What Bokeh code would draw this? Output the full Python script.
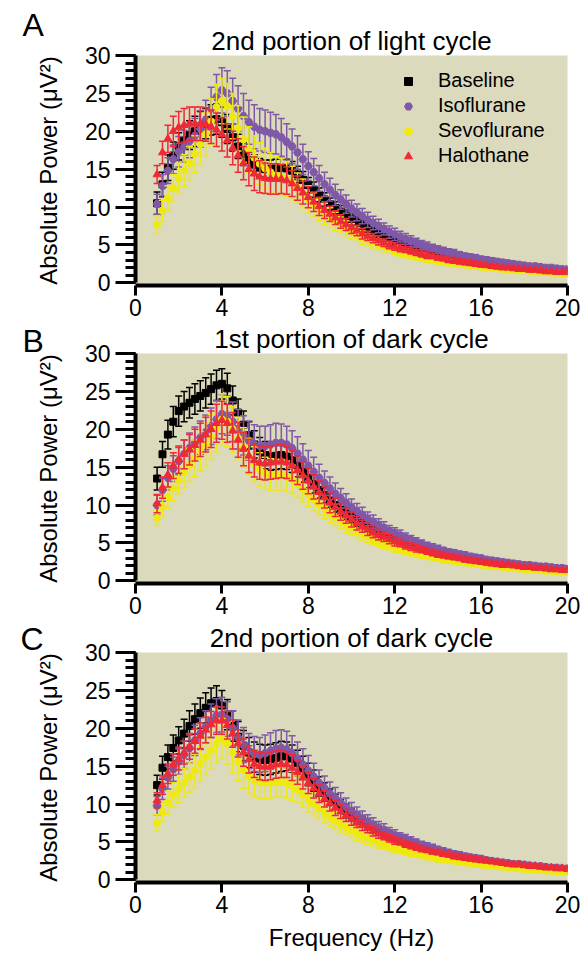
from bokeh.plotting import figure
from bokeh.layouts import column
from bokeh.models import Range1d, SingleIntervalTicker, Label, Legend, LegendItem, ColumnDataSource
from bokeh.embed import file_html
from bokeh.resources import INLINE
import numpy as np

# ---------------- data ----------------
freq = np.arange(1.0, 20.001, 0.25)   # 0.25 Hz bins, 1-20 Hz

series_names = ["Baseline", "Isoflurane", "Sevoflurane", "Halothane"]
panel_titles = ["2nd portion of light cycle", "1st portion of dark cycle", "2nd portion of dark cycle"]
panel_letters = ["A", "B", "C"]
x_ticks_interval = 4
y_ticks_interval = 5

A_base = [10.5, 13.0, 15.2, 16.8, 18.0, 18.8, 19.5, 20.0, 20.6, 21.0, 21.5, 21.6, 21.2, 20.3, 19.2, 18.0,
          17.0, 16.2, 15.6, 15.2, 15.0, 15.0, 15.1, 15.2, 15.1, 14.8, 14.3, 13.6, 12.9, 12.3, 11.6, 11.0,
          10.4, 9.9, 9.4, 8.9, 8.4, 8.0, 7.6, 7.2, 6.8, 6.5, 6.2, 5.9, 5.5, 5.2, 5.0, 4.8,
          4.5, 4.3, 4.1, 3.9, 3.7, 3.5, 3.4, 3.2, 3.1, 2.9, 2.8, 2.7, 2.6, 2.5, 2.4, 2.3,
          2.2, 2.1, 2.0, 2.0, 1.9, 1.8, 1.8, 1.7, 1.6, 1.6, 1.5, 1.5, 1.4]
A_base_sem = [1.5, 1.6, 1.7, 1.8, 1.8, 1.9, 1.9, 2.0, 2.0, 2.0, 2.0, 2.0, 2.0, 1.9, 1.8, 1.6,
              1.5, 1.4, 1.3, 1.2, 1.2, 1.2, 1.2, 1.2, 1.2, 1.2, 1.1, 1.1, 1.0, 1.0, 0.9, 0.9,
              0.8, 0.8, 0.8, 0.7, 0.7, 0.7, 0.6, 0.6, 0.6, 0.5, 0.5, 0.5, 0.5, 0.5, 0.4, 0.4,
              0.4, 0.4, 0.4, 0.4, 0.3, 0.3, 0.3, 0.3, 0.3, 0.3, 0.3, 0.3, 0.3, 0.3, 0.2, 0.2,
              0.2, 0.2, 0.2, 0.2, 0.2, 0.2, 0.2, 0.2, 0.2, 0.2, 0.2, 0.2, 0.2]
A_iso = [10.4, 12.8, 14.8, 16.3, 17.3, 18.0, 18.7, 19.4, 20.3, 21.5, 23.0, 24.5, 25.4, 25.0, 24.0, 23.0,
         22.0, 21.2, 20.6, 20.2, 20.0, 19.8, 19.6, 19.2, 18.6, 18.0, 17.2, 16.3, 15.4, 14.6, 13.8, 13.0,
         12.3, 11.6, 11.0, 10.4, 9.8, 9.3, 8.8, 8.3, 7.9, 7.5, 7.1, 6.7, 6.4, 6.1, 5.8, 5.5,
         5.3, 5.0, 4.8, 4.6, 4.4, 4.2, 4.0, 3.9, 3.7, 3.5, 3.4, 3.3, 3.1, 3.0, 2.9, 2.8,
         2.7, 2.6, 2.5, 2.4, 2.3, 2.2, 2.2, 2.1, 2.0, 2.0, 1.9, 1.8, 1.8]
A_iso_sem = [1.3, 1.5, 1.7, 1.9, 2.0, 2.1, 2.2, 2.3, 2.4, 2.6, 2.8, 3.0, 3.0, 3.0, 3.0, 3.0,
             3.0, 2.9, 2.9, 2.8, 2.8, 2.7, 2.6, 2.5, 2.4, 2.3, 2.2, 2.0, 1.9, 1.8, 1.7, 1.6,
             1.5, 1.4, 1.3, 1.2, 1.1, 1.1, 1.0, 1.0, 0.9, 0.9, 0.8, 0.8, 0.8, 0.7, 0.7, 0.7,
             0.6, 0.6, 0.6, 0.5, 0.5, 0.5, 0.5, 0.5, 0.4, 0.4, 0.4, 0.4, 0.4, 0.4, 0.4, 0.3,
             0.3, 0.3, 0.3, 0.3, 0.3, 0.3, 0.3, 0.3, 0.3, 0.3, 0.3, 0.3, 0.3]
A_sevo = [7.7, 9.5, 11.2, 12.5, 13.8, 14.8, 15.8, 17.0, 18.3, 19.6, 21.3, 23.2, 24.0, 23.3, 22.0, 20.4,
          18.9, 17.6, 16.5, 15.7, 15.1, 14.6, 14.2, 14.0, 13.7, 13.2, 12.5, 11.8, 11.0, 10.3, 9.7, 9.1,
          8.6, 8.1, 7.6, 7.2, 6.8, 6.4, 6.0, 5.7, 5.4, 5.1, 4.8, 4.6, 4.3, 4.1, 3.9, 3.7,
          3.5, 3.4, 3.2, 3.1, 2.9, 2.8, 2.7, 2.6, 2.5, 2.4, 2.3, 2.2, 2.1, 2.0, 2.0, 1.9,
          1.8, 1.8, 1.7, 1.6, 1.6, 1.5, 1.5, 1.4, 1.4, 1.3, 1.3, 1.2, 1.2]
A_sevo_sem = [1.2, 1.4, 1.6, 1.8, 2.0, 2.1, 2.2, 2.4, 2.6, 2.8, 3.0, 3.0, 3.0, 3.0, 3.0, 3.0,
              3.0, 3.0, 2.9, 2.8, 2.7, 2.6, 2.5, 2.4, 2.3, 2.2, 2.0, 1.9, 1.8, 1.6, 1.5, 1.4,
              1.3, 1.2, 1.1, 1.0, 1.0, 0.9, 0.9, 0.8, 0.8, 0.7, 0.7, 0.7, 0.6, 0.6, 0.6, 0.5,
              0.5, 0.5, 0.5, 0.4, 0.4, 0.4, 0.4, 0.4, 0.4, 0.3, 0.3, 0.3, 0.3, 0.3, 0.3, 0.3,
              0.3, 0.3, 0.3, 0.2, 0.2, 0.2, 0.2, 0.2, 0.2, 0.2, 0.2, 0.2, 0.2]
A_halo = [14.3, 17.2, 19.0, 20.0, 20.5, 20.8, 21.0, 21.0, 21.0, 20.9, 20.6, 20.2, 19.6, 18.8, 17.8, 16.8,
          15.8, 15.0, 14.4, 14.0, 13.8, 13.7, 13.7, 13.7, 13.5, 13.1, 12.5, 11.9, 11.3, 10.7, 10.1, 9.6,
          9.1, 8.6, 8.1, 7.7, 7.3, 6.9, 6.5, 6.2, 5.9, 5.6, 5.3, 5.0, 4.8, 4.6, 4.4, 4.2,
          4.0, 3.8, 3.6, 3.5, 3.3, 3.2, 3.0, 2.9, 2.8, 2.7, 2.6, 2.5, 2.4, 2.3, 2.2, 2.1,
          2.0, 2.0, 1.9, 1.8, 1.8, 1.7, 1.7, 1.6, 1.5, 1.5, 1.4, 1.4, 1.4]
A_halo_sem = [1.2, 1.5, 1.8, 2.0, 2.1, 2.2, 2.2, 2.2, 2.2, 2.2, 2.2, 2.2, 2.2, 2.2, 2.2, 2.2,
              2.2, 2.2, 2.2, 2.1, 2.0, 2.0, 2.0, 1.9, 1.8, 1.7, 1.6, 1.5, 1.4, 1.3, 1.2, 1.1,
              1.0, 0.9, 0.9, 0.8, 0.8, 0.7, 0.7, 0.6, 0.6, 0.6, 0.5, 0.5, 0.5, 0.5, 0.4, 0.4,
              0.4, 0.4, 0.4, 0.3, 0.3, 0.3, 0.3, 0.3, 0.3, 0.3, 0.3, 0.3, 0.3, 0.2, 0.2, 0.2,
              0.2, 0.2, 0.2, 0.2, 0.2, 0.2, 0.2, 0.2, 0.2, 0.2, 0.2, 0.2, 0.2]

B_base = [13.5, 16.7, 19.3, 21.0, 22.4, 23.0, 23.5, 24.0, 24.4, 24.8, 25.3, 25.8, 26.0, 25.4, 23.8, 22.2,
          20.6, 19.2, 18.0, 17.1, 16.6, 16.4, 16.5, 16.6, 16.4, 15.9, 15.2, 14.4, 13.6, 12.8, 12.0, 11.3,
          10.6, 10.0, 9.4, 8.9, 8.4, 7.9, 7.5, 7.1, 6.7, 6.3, 6.0, 5.7, 5.4, 5.1, 4.9, 4.6,
          4.4, 4.2, 4.0, 3.8, 3.6, 3.5, 3.3, 3.2, 3.1, 2.9, 2.8, 2.7, 2.6, 2.5, 2.4, 2.3,
          2.2, 2.1, 2.1, 2.0, 1.9, 1.8, 1.8, 1.7, 1.7, 1.6, 1.5, 1.5, 1.4]
B_base_sem = [1.5, 1.7, 1.9, 2.0, 2.0, 2.0, 2.0, 2.0, 2.0, 2.0, 2.0, 2.0, 2.0, 2.0, 1.9, 1.8,
              1.8, 1.8, 1.8, 1.8, 1.8, 1.8, 1.8, 1.8, 1.7, 1.6, 1.5, 1.4, 1.3, 1.2, 1.1, 1.0,
              0.9, 0.9, 0.8, 0.8, 0.7, 0.7, 0.6, 0.6, 0.6, 0.5, 0.5, 0.5, 0.5, 0.4, 0.4, 0.4,
              0.4, 0.4, 0.3, 0.3, 0.3, 0.3, 0.3, 0.3, 0.3, 0.3, 0.3, 0.3, 0.2, 0.2, 0.2, 0.2,
              0.2, 0.2, 0.2, 0.2, 0.2, 0.2, 0.2, 0.2, 0.2, 0.2, 0.2, 0.2, 0.2]
B_iso = [10.0, 12.0, 13.6, 14.8, 15.8, 16.7, 17.5, 18.2, 18.9, 19.6, 20.4, 21.3, 22.0, 21.8, 21.0, 20.0,
         19.2, 18.5, 18.0, 17.8, 17.8, 18.0, 18.2, 18.2, 18.0, 17.5, 16.8, 16.0, 15.2, 14.4, 13.6, 12.9,
         12.2, 11.5, 10.9, 10.3, 9.7, 9.2, 8.7, 8.2, 7.8, 7.4, 7.0, 6.6, 6.3, 6.0, 5.7, 5.4,
         5.1, 4.9, 4.6, 4.4, 4.2, 4.0, 3.8, 3.7, 3.5, 3.4, 3.2, 3.1, 3.0, 2.8, 2.7, 2.6,
         2.5, 2.4, 2.3, 2.2, 2.1, 2.1, 2.0, 1.9, 1.9, 1.8, 1.7, 1.7, 1.6]
B_iso_sem = [1.3, 1.5, 1.6, 1.7, 1.8, 1.9, 2.0, 2.1, 2.2, 2.3, 2.4, 2.5, 2.6, 2.6, 2.6, 2.6,
             2.6, 2.6, 2.6, 2.6, 2.6, 2.6, 2.6, 2.5, 2.4, 2.3, 2.2, 2.1, 2.0, 1.9, 1.8, 1.6,
             1.5, 1.4, 1.3, 1.2, 1.1, 1.0, 1.0, 0.9, 0.9, 0.8, 0.8, 0.7, 0.7, 0.7, 0.6, 0.6,
             0.6, 0.5, 0.5, 0.5, 0.5, 0.4, 0.4, 0.4, 0.4, 0.4, 0.4, 0.3, 0.3, 0.3, 0.3, 0.3,
             0.3, 0.3, 0.3, 0.3, 0.3, 0.3, 0.3, 0.3, 0.3, 0.3, 0.3, 0.3, 0.3]
B_sevo = [8.3, 9.8, 11.0, 12.2, 13.3, 14.3, 15.3, 16.2, 17.1, 18.0, 19.0, 20.2, 21.3, 21.0, 20.0, 18.8,
          17.6, 16.4, 15.4, 14.7, 14.2, 14.0, 14.0, 14.0, 13.8, 13.4, 12.8, 12.1, 11.4, 10.7, 10.1, 9.5,
          8.9, 8.4, 7.9, 7.4, 7.0, 6.6, 6.2, 5.9, 5.5, 5.2, 4.9, 4.7, 4.4, 4.2, 4.0, 3.8,
          3.6, 3.4, 3.3, 3.1, 3.0, 2.8, 2.7, 2.6, 2.5, 2.4, 2.3, 2.2, 2.1, 2.0, 1.9, 1.9,
          1.8, 1.7, 1.7, 1.6, 1.5, 1.5, 1.4, 1.4, 1.3, 1.3, 1.2, 1.2, 1.1]
B_sevo_sem = [1.0, 1.2, 1.4, 1.6, 1.8, 2.0, 2.2, 2.4, 2.6, 2.8, 3.0, 3.2, 3.4, 3.3, 3.0, 2.8,
              2.6, 2.4, 2.3, 2.2, 2.1, 2.1, 2.0, 2.0, 2.0, 1.9, 1.8, 1.7, 1.6, 1.5, 1.4, 1.3,
              1.2, 1.1, 1.0, 1.0, 0.9, 0.9, 0.8, 0.8, 0.7, 0.7, 0.6, 0.6, 0.6, 0.5, 0.5, 0.5,
              0.5, 0.4, 0.4, 0.4, 0.4, 0.4, 0.3, 0.3, 0.3, 0.3, 0.3, 0.3, 0.3, 0.3, 0.3, 0.3,
              0.3, 0.2, 0.2, 0.2, 0.2, 0.2, 0.2, 0.2, 0.2, 0.2, 0.2, 0.2, 0.2]
B_halo = [10.2, 12.3, 14.0, 15.2, 16.0, 16.7, 17.3, 17.9, 18.6, 19.3, 20.0, 20.8, 21.2, 20.8, 19.8, 18.6,
          17.4, 16.5, 15.9, 15.6, 15.5, 15.6, 15.7, 15.8, 15.6, 15.2, 14.6, 13.9, 13.2, 12.4, 11.7, 11.0,
          10.3, 9.7, 9.1, 8.6, 8.1, 7.6, 7.2, 6.8, 6.4, 6.1, 5.8, 5.5, 5.2, 5.0, 4.7, 4.5,
          4.3, 4.1, 3.9, 3.7, 3.5, 3.4, 3.2, 3.1, 3.0, 2.8, 2.7, 2.6, 2.5, 2.4, 2.3, 2.2,
          2.1, 2.1, 2.0, 1.9, 1.8, 1.8, 1.7, 1.7, 1.6, 1.5, 1.5, 1.4, 1.4]
B_halo_sem = [1.2, 1.4, 1.6, 1.7, 1.8, 1.9, 2.0, 2.1, 2.2, 2.3, 2.4, 2.5, 2.5, 2.5, 2.4, 2.3,
              2.2, 2.2, 2.2, 2.2, 2.2, 2.2, 2.2, 2.2, 2.1, 2.0, 1.9, 1.8, 1.7, 1.6, 1.5, 1.4,
              1.3, 1.2, 1.1, 1.0, 1.0, 0.9, 0.8, 0.8, 0.7, 0.7, 0.6, 0.6, 0.6, 0.5, 0.5, 0.5,
              0.5, 0.4, 0.4, 0.4, 0.4, 0.4, 0.3, 0.3, 0.3, 0.3, 0.3, 0.3, 0.3, 0.3, 0.3, 0.3,
              0.3, 0.2, 0.2, 0.2, 0.2, 0.2, 0.2, 0.2, 0.2, 0.2, 0.2, 0.2, 0.2]

C_base = [12.5, 14.8, 16.2, 17.4, 18.4, 19.3, 20.3, 21.2, 22.0, 22.7, 23.3, 23.6, 23.0, 21.8, 20.3, 18.9,
          17.7, 16.8, 16.2, 15.9, 15.8, 15.9, 16.1, 16.3, 16.3, 16.0, 15.4, 14.7, 13.9, 13.1, 12.3, 11.6,
          10.9, 10.3, 9.7, 9.1, 8.6, 8.1, 7.7, 7.3, 6.9, 6.5, 6.2, 5.9, 5.6, 5.3, 5.0, 4.8,
          4.6, 4.4, 4.2, 4.0, 3.7, 3.5, 3.3, 3.2, 3.0, 2.9, 2.8, 2.6, 2.5, 2.4, 2.3, 2.2,
          2.1, 2.0, 1.9, 1.8, 1.7, 1.7, 1.6, 1.5, 1.5, 1.4, 1.4, 1.3, 1.3]
C_base_sem = [1.3, 1.5, 1.6, 1.7, 1.8, 1.9, 2.0, 2.0, 2.0, 2.0, 2.0, 2.0, 2.0, 2.0, 2.0, 2.0,
              2.0, 2.0, 2.0, 2.0, 2.0, 2.0, 2.0, 2.0, 1.9, 1.8, 1.7, 1.6, 1.5, 1.4, 1.3, 1.2,
              1.1, 1.0, 0.9, 0.9, 0.8, 0.8, 0.7, 0.7, 0.6, 0.6, 0.6, 0.5, 0.5, 0.5, 0.5, 0.4,
              0.4, 0.4, 0.4, 0.4, 0.3, 0.3, 0.3, 0.3, 0.3, 0.3, 0.3, 0.3, 0.2, 0.2, 0.2, 0.2,
              0.2, 0.2, 0.2, 0.2, 0.2, 0.2, 0.2, 0.2, 0.2, 0.2, 0.2, 0.2, 0.2]
C_iso = [9.8, 12.0, 13.5, 14.6, 15.6, 16.5, 17.4, 18.4, 19.3, 20.2, 21.0, 21.7, 21.8, 21.2, 20.0, 18.8,
         17.8, 17.0, 16.6, 16.5, 16.7, 17.0, 17.3, 17.4, 17.2, 16.7, 16.0, 15.2, 14.4, 13.6, 12.8, 12.1,
         11.4, 10.8, 10.2, 9.6, 9.1, 8.6, 8.1, 7.7, 7.3, 6.9, 6.6, 6.2, 5.9, 5.6, 5.4, 5.1,
         4.9, 4.6, 4.4, 4.2, 4.0, 3.8, 3.6, 3.4, 3.3, 3.1, 3.0, 2.9, 2.8, 2.6, 2.5, 2.4,
         2.3, 2.2, 2.1, 2.1, 2.0, 1.9, 1.8, 1.8, 1.7, 1.6, 1.6, 1.5, 1.5]
C_iso_sem = [1.2, 1.4, 1.5, 1.6, 1.7, 1.8, 1.9, 2.0, 2.1, 2.1, 2.2, 2.2, 2.3, 2.3, 2.3, 2.3,
             2.3, 2.3, 2.3, 2.3, 2.4, 2.4, 2.4, 2.4, 2.4, 2.3, 2.2, 2.1, 2.0, 1.8, 1.7, 1.6,
             1.5, 1.4, 1.3, 1.2, 1.1, 1.0, 1.0, 0.9, 0.9, 0.8, 0.8, 0.7, 0.7, 0.6, 0.6, 0.6,
             0.5, 0.5, 0.5, 0.5, 0.4, 0.4, 0.4, 0.4, 0.4, 0.4, 0.3, 0.3, 0.3, 0.3, 0.3, 0.3,
             0.3, 0.3, 0.3, 0.3, 0.3, 0.3, 0.3, 0.3, 0.3, 0.3, 0.3, 0.3, 0.3]
C_sevo = [7.5, 9.0, 10.2, 11.2, 12.0, 12.8, 13.6, 14.4, 15.3, 16.2, 17.1, 18.0, 18.6, 18.0, 16.8, 15.6,
          14.5, 13.7, 13.2, 12.9, 12.8, 12.8, 12.9, 12.9, 12.8, 12.4, 11.9, 11.3, 10.6, 10.0, 9.4, 8.8,
          8.3, 7.8, 7.3, 6.9, 6.5, 6.1, 5.8, 5.5, 5.2, 4.9, 4.7, 4.4, 4.2, 4.0, 3.8, 3.6,
          3.4, 3.3, 3.1, 3.0, 2.8, 2.7, 2.6, 2.5, 2.4, 2.3, 2.2, 2.1, 2.0, 1.9, 1.8, 1.8,
          1.7, 1.6, 1.6, 1.5, 1.4, 1.4, 1.3, 1.3, 1.2, 1.2, 1.1, 1.1, 1.0]
C_sevo_sem = [1.1, 1.3, 1.5, 1.6, 1.8, 1.9, 2.0, 2.2, 2.3, 2.4, 2.5, 2.6, 2.7, 2.7, 2.6, 2.5,
              2.4, 2.3, 2.2, 2.1, 2.1, 2.0, 2.0, 2.0, 2.0, 1.9, 1.8, 1.7, 1.6, 1.5, 1.4, 1.3,
              1.2, 1.1, 1.0, 1.0, 0.9, 0.9, 0.8, 0.8, 0.7, 0.7, 0.6, 0.6, 0.6, 0.5, 0.5, 0.5,
              0.4, 0.4, 0.4, 0.4, 0.4, 0.3, 0.3, 0.3, 0.3, 0.3, 0.3, 0.3, 0.3, 0.3, 0.2, 0.2,
              0.2, 0.2, 0.2, 0.2, 0.2, 0.2, 0.2, 0.2, 0.2, 0.2, 0.2, 0.2, 0.2]
C_halo = [10.5, 12.5, 14.0, 15.2, 16.0, 16.8, 17.5, 18.3, 19.0, 19.8, 20.5, 21.0, 21.0, 20.4, 19.3, 18.0,
          16.8, 15.9, 15.3, 15.0, 14.9, 15.0, 15.2, 15.3, 15.2, 14.8, 14.2, 13.5, 12.8, 12.1, 11.4, 10.7,
          10.1, 9.5, 9.0, 8.5, 8.0, 7.6, 7.2, 6.8, 6.4, 6.1, 5.8, 5.5, 5.2, 5.0, 4.7, 4.5,
          4.3, 4.1, 3.9, 3.7, 3.6, 3.4, 3.3, 3.1, 3.0, 2.9, 2.8, 2.7, 2.6, 2.5, 2.4, 2.3,
          2.2, 2.1, 2.0, 2.0, 1.9, 1.8, 1.8, 1.7, 1.6, 1.6, 1.5, 1.5, 1.4]
C_halo_sem = [1.0, 1.2, 1.3, 1.4, 1.5, 1.5, 1.6, 1.6, 1.7, 1.7, 1.7, 1.8, 1.8, 1.8, 1.8, 1.8,
              1.8, 1.8, 1.8, 1.8, 1.8, 1.8, 1.8, 1.8, 1.7, 1.7, 1.6, 1.5, 1.4, 1.3, 1.2, 1.1,
              1.0, 1.0, 0.9, 0.8, 0.8, 0.7, 0.7, 0.6, 0.6, 0.6, 0.5, 0.5, 0.5, 0.4, 0.4, 0.4,
              0.4, 0.4, 0.3, 0.3, 0.3, 0.3, 0.3, 0.3, 0.3, 0.3, 0.3, 0.3, 0.3, 0.2, 0.2, 0.2,
              0.2, 0.2, 0.2, 0.2, 0.2, 0.2, 0.2, 0.2, 0.2, 0.2, 0.2, 0.2, 0.2]

# ---------------- style ----------------
FONT = "Liberation Sans"
BG = "#dcdabd"
COLORS = ["#000000", "#7f58a8", "#eeea10", "#ee2a36"]
MARKERS = ["square", "hex", "circle", "triangle"]
SIZES = [7, 8, 7, 8]

panels = [
    [(A_base, A_base_sem), (A_iso, A_iso_sem), (A_sevo, A_sevo_sem), (A_halo, A_halo_sem)],
    [(B_base, B_base_sem), (B_iso, B_iso_sem), (B_sevo, B_sevo_sem), (B_halo, B_halo_sem)],
    [(C_base, C_base_sem), (C_iso, C_iso_sem), (C_sevo, C_sevo_sem), (C_halo, C_halo_sem)],
]
for pan in panels:
    for m, s in pan:
        assert len(m) == len(freq) and len(s) == len(freq), (len(m), len(s))

FW, FH = 432, 230
tops = [55, 34, 35]
bottoms = [34, 34, 0]
letter_y = [FH + 31, FH + 13, FH + 14]


def make_panel(k):
    p = figure(frame_width=FW, frame_height=FH, x_range=Range1d(0, 20), y_range=Range1d(-0.35, 30),
               output_backend="svg", toolbar_location=None,
               min_border_left=135, min_border_right=14, min_border_top=tops[k],
               min_border_bottom=bottoms[k],
               background_fill_color=BG, border_fill_color="white", outline_line_color=None)
    p.grid.visible = False

    p.title.text = panel_titles[k]
    p.title.align = "center"
    p.title.text_font = FONT
    p.title.text_font_size = "26px"
    p.title.text_font_style = "normal"
    p.title.text_color = "black"
    p.title.standoff = 0
    p.title.offset = 4

    xa = p.xaxis[0]
    xa.ticker = SingleIntervalTicker(interval=x_ticks_interval, num_minor_ticks=0)
    xa.bounds = (0, 20)
    ya = p.yaxis[0]
    ya.ticker = SingleIntervalTicker(interval=y_ticks_interval, num_minor_ticks=5)
    ya.bounds = (0, 30)
    for ax in (xa, ya):
        ax.axis_line_width = 4
        ax.axis_line_color = "black"
        ax.major_tick_line_width = 3
        ax.minor_tick_line_width = 3
        ax.major_tick_in = 0
        ax.minor_tick_in = 0
        ax.major_label_text_font = FONT
        ax.major_label_text_font_size = "23px"
        ax.major_label_text_color = "black"
        ax.axis_label_text_font = FONT
        ax.axis_label_text_font_size = "24px"
        ax.axis_label_text_font_style = "normal"
        ax.axis_label_text_color = "black"
    xa.major_tick_out = 10
    xa.major_label_standoff = 3
    ya.major_tick_out = 20
    ya.minor_tick_out = 10
    ya.major_label_standoff = 5
    ya.axis_label = "Absolute Power (\u03bcV\u00b2)"
    ya.axis_label_standoff = 20
    if k == 2:
        xa.axis_label = "Frequency (Hz)"
        xa.axis_label_standoff = 8

    items = []
    for i, (m, s) in enumerate(panels[k]):
        mv = np.array(m)
        sv = np.array(s)
        src = ColumnDataSource(dict(x=freq, y=mv, lo=mv - sv, hi=mv + sv))
        c = COLORS[i]
        p.segment(x0="x", y0="lo", x1="x", y1="hi", source=src, line_color=c, line_width=1.5)
        p.scatter(x="x", y="hi", source=src, marker="dash", size=7, line_color=c, line_width=1.5)
        p.scatter(x="x", y="lo", source=src, marker="dash", size=7, line_color=c, line_width=1.5)
        r = p.scatter(x="x", y="y", source=src, marker=MARKERS[i], size=SIZES[i],
                      fill_color=c, line_color=c)
        items.append(LegendItem(label=series_names[i], renderers=[r]))

    if k == 0:
        leg = Legend(items=items, location=(263, 118), border_line_color=None,
                     background_fill_alpha=0, padding=0, margin=0, spacing=2,
                     glyph_width=20, glyph_height=20, label_height=20, label_standoff=20,
                     label_text_font=FONT, label_text_font_size="20px", label_text_color="black")
        p.add_layout(leg)

    # panel letter lives in the left side panel (outside the frame, so not clipped)
    p.add_layout(Label(x=12, y=letter_y[k], x_units="screen", y_units="screen",
                       text=panel_letters[k], text_align="left", text_baseline="alphabetic",
                       text_font=FONT, text_font_size="32px", text_color="black"), "left")
    return p


figs = [make_panel(k) for k in range(3)]
layout = column(*figs, spacing=0)
open("out.html", "w").write(file_html(layout, INLINE))
